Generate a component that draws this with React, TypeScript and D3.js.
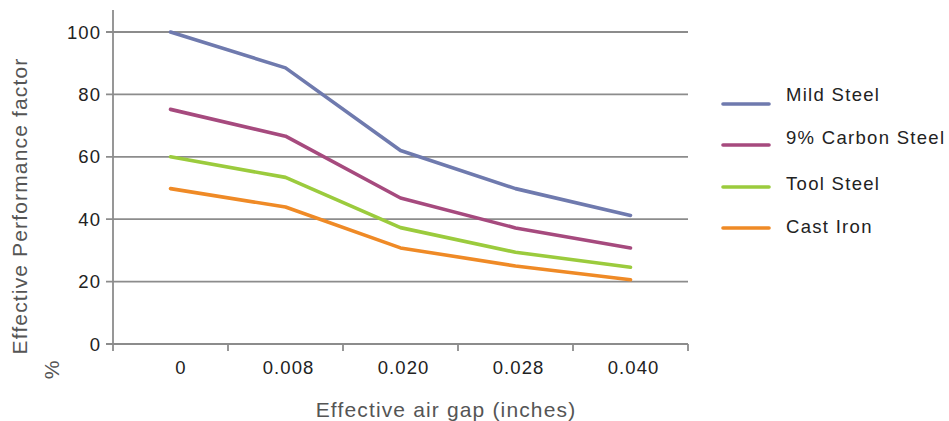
import React from "react";
import * as d3 from "d3";

const categories = ["0", "0.008", "0.020", "0.028", "0.040"];
const mildSteel = [100, 88.5, 62, 49.8, 41.2];
const carbonSteel = [75.2, 66.6, 46.8, 37.2, 30.8];
const toolSteel = [60, 53.4, 37.3, 29.4, 24.6];
const castIron = [49.8, 43.9, 30.8, 25, 20.6];
const seriesNames = ["Mild Steel", "9% Carbon Steel", "Tool Steel", "Cast Iron"];
const seriesColors = ["#6f7aae", "#a64a7e", "#9bcb3d", "#ef8a26"];
const yTicks = [0, 20, 40, 60, 80, 100];

const W = 949;
const H = 421;
const FONT = "'Liberation Sans', Arial, Helvetica, sans-serif";

export default function App() {
  const left = 113;
  const right = 688;
  const top = 32;
  const bottom = 344;
  const x = d3.scaleBand<string>().domain(categories).range([left, right]).padding(0);
  const y = d3.scaleLinear().domain([0, 100]).range([bottom, top]);
  const allSeries = [mildSteel, carbonSteel, toolSteel, castIron];
  const line = d3
    .line<number>()
    .x((_, i) => (x(categories[i]) as number) + x.bandwidth() / 2)
    .y((d) => y(d));
  const gridColor = "#8c8c8c";
  const bandEdges = categories.map((c) => x(c) as number).concat([right]);
  const legendLineY = [104, 145, 187, 228];
  const legendTextBase = [101, 143.5, 189.5, 232.5];
  const tickFont = 18.5;
  const tickLs = 1.1;

  return (
    <div style={{ position: "absolute", left: 0, top: 0 }}>
      <svg width={W} height={H} style={{ display: "block", background: "#fff" }}>
        {yTicks.map((t) => (
          <line
            key={"g" + t}
            x1={left - 7}
            x2={right}
            y1={y(t)}
            y2={y(t)}
            stroke={gridColor}
            strokeWidth={1.8}
          />
        ))}
        <line x1={left} x2={left} y1={10} y2={bottom} stroke={gridColor} strokeWidth={1.8} />
        {bandEdges.map((bx, i) => (
          <line
            key={"xt" + i}
            x1={bx}
            x2={bx}
            y1={bottom}
            y2={bottom + 7}
            stroke={gridColor}
            strokeWidth={1.8}
          />
        ))}
        {yTicks.map((t) => (
          <text
            key={"yl" + t}
            x={100 + tickLs}
            y={y(t) + 6.6}
            textAnchor="end"
            fontFamily={FONT}
            fontSize={tickFont}
            letterSpacing={tickLs}
            fill="#222"
          >
            {t}
          </text>
        ))}
        {categories.map((c, i) => (
          <text
            key={"xl" + c}
            x={(x(c) as number) + x.bandwidth() / 2 + (i === 0 ? 10 : 2.5) + tickLs / 2}
            y={373.5}
            textAnchor="middle"
            fontFamily={FONT}
            fontSize={tickFont}
            letterSpacing={tickLs}
            fill="#222"
          >
            {c}
          </text>
        ))}
        {allSeries.map((s, i) => (
          <path
            key={"s" + i}
            d={line(s) || ""}
            fill="none"
            stroke={seriesColors[i]}
            strokeWidth={3.6}
            strokeLinecap="round"
            strokeLinejoin="round"
          />
        ))}
        <text
          x={446}
          y={416.5}
          textAnchor="middle"
          fontFamily={FONT}
          fontSize={21}
          letterSpacing={1.15}
          fill="#555"
        >
          Effective air gap (inches)
        </text>
        <text
          transform={`translate(27, 206) rotate(-90)`}
          textAnchor="middle"
          fontFamily={FONT}
          fontSize={21}
          letterSpacing={1.15}
          fill="#555"
        >
          Effective Performance factor
        </text>
        <text
          transform={`translate(59, 370) rotate(-90)`}
          textAnchor="middle"
          fontFamily={FONT}
          fontSize={21}
          fill="#555"
        >
          %
        </text>
        {seriesNames.map((n, i) => (
          <g key={"lg" + n}>
            <line
              x1={723}
              x2={769}
              y1={legendLineY[i]}
              y2={legendLineY[i]}
              stroke={seriesColors[i]}
              strokeWidth={3.6}
              strokeLinecap="round"
            />
            <text
              x={786}
              y={legendTextBase[i]}
              fontFamily={FONT}
              fontSize={tickFont}
              letterSpacing={1.3}
              fill="#222"
            >
              {n}
            </text>
          </g>
        ))}
      </svg>
    </div>
  );
}
